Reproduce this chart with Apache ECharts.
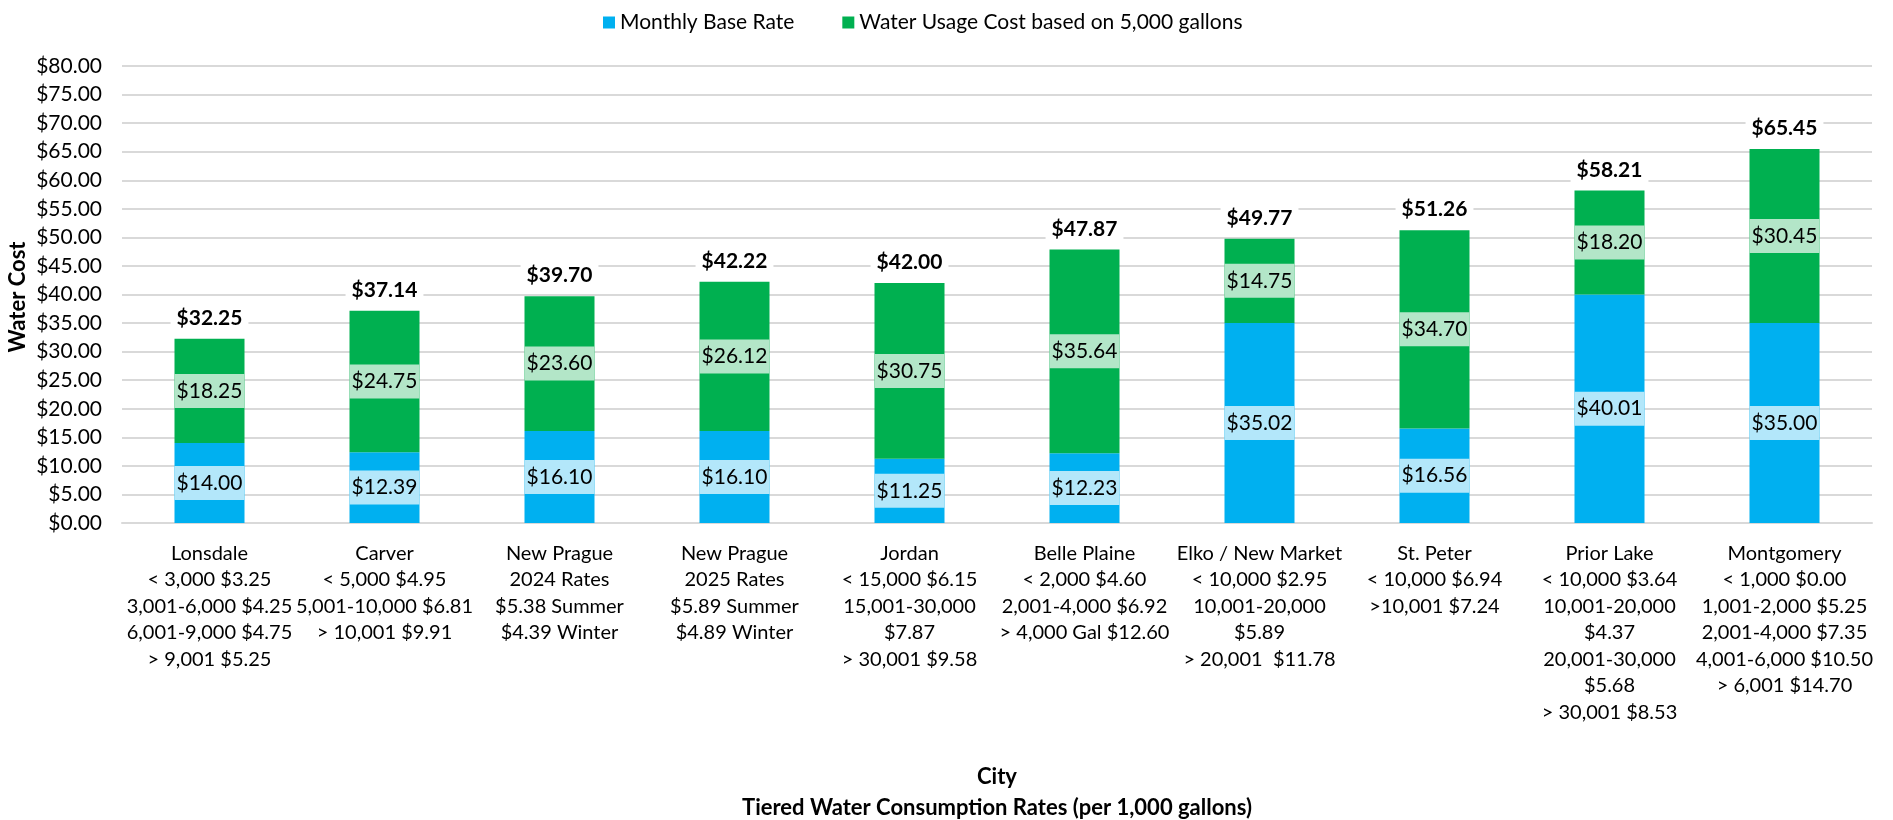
<!DOCTYPE html>
<html>
<head>
<meta charset="utf-8">
<script src="https://cdn.jsdelivr.net/npm/echarts@6/dist/echarts.min.js"></script>
<style>
html,body{margin:0;padding:0;background:#fff;}
#chart{width:1893px;height:820px;}
</style>
</head>
<body>
<div id="chart"></div>
<script>
const categories = [
  "Lonsdale\n< 3,000 $3.25\n3,001-6,000 $4.25\n6,001-9,000 $4.75\n> 9,001 $5.25",
  "Carver\n< 5,000 $4.95\n5,001-10,000 $6.81\n> 10,001 $9.91",
  "New Prague\n2024 Rates\n$5.38 Summer\n$4.39 Winter",
  "New Prague\n2025 Rates\n$5.89 Summer\n$4.89 Winter",
  "Jordan\n< 15,000 $6.15\n15,001-30,000\n$7.87\n> 30,001 $9.58",
  "Belle Plaine\n< 2,000 $4.60\n2,001-4,000 $6.92\n> 4,000 Gal $12.60",
  "Elko / New Market\n< 10,000 $2.95\n10,001-20,000\n$5.89\n> 20,001  $11.78",
  "St. Peter\n< 10,000 $6.94\n>10,001 $7.24",
  "Prior Lake\n< 10,000 $3.64\n10,001-20,000\n$4.37\n20,001-30,000\n$5.68\n> 30,001 $8.53",
  "Montgomery\n< 1,000 $0.00\n1,001-2,000 $5.25\n2,001-4,000 $7.35\n4,001-6,000 $10.50\n> 6,001 $14.70"
];
const baseRate = [14.00, 12.39, 16.10, 16.10, 11.25, 12.23, 35.02, 16.56, 40.01, 35.00];
const usageCost = [18.25, 24.75, 23.60, 26.12, 30.75, 35.64, 14.75, 34.70, 18.20, 30.45];
const totals = baseRate.map((v, i) => +(v + usageCost[i]).toFixed(2));
const seriesNames = ["Monthly Base Rate", "Water Usage Cost based on 5,000 gallons"];
const yMin = 0, yMax = 80, yStep = 5;

const FONT = "Lato";
const FS = 21;
const money = v => "$" + Number(v).toFixed(2);

const chart = echarts.init(document.getElementById("chart"), null, {renderer: "canvas"});
chart.setOption({
  animation: false,
  textStyle: {fontFamily: FONT},
  legend: {
    data: seriesNames,
    left: 598, top: 7,
    itemWidth: 12, itemHeight: 12, itemGap: 48,
    icon: "rect",
    textStyle: {fontFamily: FONT, fontSize: FS, color: "#000"}
  },
  grid: {left: 122, right: 21, top: 66, bottom: 297, containLabel: false, outerBoundsMode: "none"},
  xAxis: {
    type: "category",
    data: categories,
    axisLine: {lineStyle: {color: "#d9d9d9", width: 2}},
    axisTick: {show: false},
    axisLabel: {interval: 0, fontFamily: FONT, fontSize: 20, lineHeight: 26.5, color: "#000", margin: 17},
    name: "City\nTiered Water Consumption Rates (per 1,000 gallons)",
    nameLocation: "middle",
    nameGap: 238,
    nameTextStyle: {fontFamily: FONT, fontSize: 22, fontWeight: "bold", color: "#000", lineHeight: 31}
  },
  yAxis: {
    type: "value",
    min: yMin, max: yMax, interval: yStep,
    axisLine: {show: false},
    axisTick: {show: false},
    splitLine: {lineStyle: {color: "#d9d9d9", width: 2}},
    axisLabel: {formatter: v => money(v), fontFamily: FONT, fontSize: FS, color: "#000", margin: 20}
  },
  graphic: [{
    type: "text",
    x: 18, y: 297,
    rotation: Math.PI / 2,
    style: {text: "Water Cost", font: "bold 22px " + FONT, fill: "#000", textAlign: "center", textVerticalAlign: "middle"}
  }],
  series: [
    {
      name: seriesNames[0], type: "bar", stack: "cost", barWidth: "40%",
      data: baseRate,
      itemStyle: {color: "#00B0F0"},
      label: {
        show: true, position: "inside", formatter: p => money(p.value),
        backgroundColor: "#B3E7FA", width: 70, height: 34, lineHeight: 34, align: "center",
        fontFamily: FONT, fontSize: FS, color: "#000"
      }
    },
    {
      name: seriesNames[1], type: "bar", stack: "cost", barWidth: "40%",
      data: usageCost,
      itemStyle: {color: "#00B050"},
      label: {
        show: true, position: "inside", formatter: p => money(p.value),
        backgroundColor: "#B3E6C8", width: 70, height: 34, lineHeight: 34, align: "center",
        fontFamily: FONT, fontSize: FS, color: "#000"
      }
    },
    {
      name: "Total", type: "bar", stack: "cost", barWidth: "40%",
      data: totals.map(() => 0),
      itemStyle: {color: "transparent"},
      label: {
        show: true, position: "top", distance: 7,
        formatter: p => money(totals[p.dataIndex]),
        backgroundColor: "#fff", padding: [3, 6],
        fontFamily: FONT, fontSize: FS, fontWeight: "bold", color: "#000"
      }
    }
  ]
});
</script>
</body>
</html>
